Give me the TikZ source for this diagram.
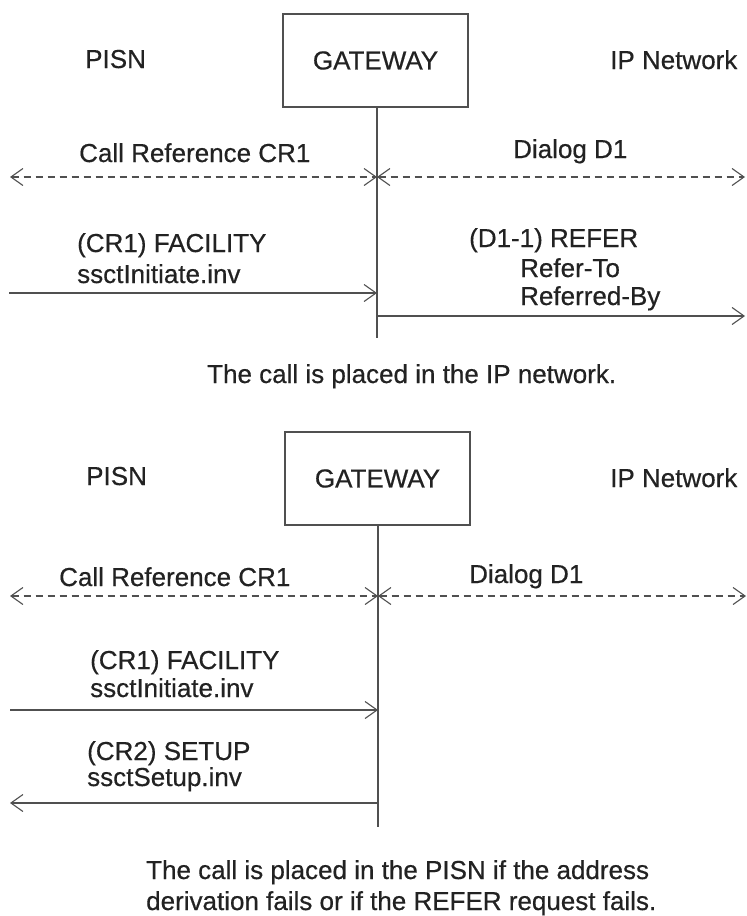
\documentclass[tikz,border=0pt]{standalone}
\usepackage{fontspec}
\setmainfont{Liberation Sans}[FakeBold=0.5]
\usetikzlibrary{arrows.meta}
\definecolor{ink}{HTML}{222222}
\definecolor{linec}{HTML}{505050}
\tikzset{
  lbl/.style={anchor=base west, inner sep=0pt, text=ink, font=\fontsize{26}{30}\selectfont},
  gwbox/.style={draw=linec, line width=1.1pt, minimum width=185pt, minimum height=93pt, inner sep=0pt, text=ink, font=\fontsize{26}{30}\selectfont},
  life/.style={draw=linec, line width=1.1pt},
  msg/.style={draw=linec, line width=1.1pt, -{Straight Barb[length=12pt,width=17pt]}},
  dsh/.style={draw=linec, line width=1.1pt, dash pattern=on 7.5pt off 4.5pt, {Straight Barb[length=12pt,width=17pt]}-{Straight Barb[length=12pt,width=17pt]}}
}
\begin{document}
\begin{tikzpicture}[x=1pt, y=-1pt]
\useasboundingbox (0,0) rectangle (747,916);
\fill[white] (0,0) rectangle (747,916);

% ---------------- top section ----------------
\node[gwbox] (gw1) at (375.5,60.5) {GATEWAY};
\node[lbl] (pisn1) at (85,68) {PISN};
\node[lbl] (ip1) at (610,69) {IP Network};
\node[lbl] (cr1a) at (79,162) {Call Reference CR1};
\node[lbl] (dd1a) at (513,158) {Dialog D1};
\node[lbl] (fac1) at (77,252) {(CR1) FACILITY};
\node[lbl] (ini1) at (77,283) {ssctInitiate.inv};
\node[lbl] (ref1) at (469,247) {(D1-1) REFER};
\node[lbl] (rto1) at (520,277) {Refer-To};
\node[lbl] (rby1) at (520,305) {Referred-By};
\node[lbl] (cap1) at (207,383) {The call is placed in the IP network.};

\coordinate (t1) at (377,107);
\coordinate (b1) at (377,338);
\coordinate (L1) at (10,177);
\coordinate (C1) at (377,177);
\coordinate (R1) at (745,177);
\coordinate (F1s) at (9,293);
\coordinate (F1e) at (377,293);
\coordinate (D1s) at (377,316);
\coordinate (D1e) at (745,316);

\draw[life] (t1) -- (b1);
\draw[dsh] (L1) -- (C1);
\draw[dsh] (C1) -- (R1);
\draw[msg] (F1s) -- (F1e);
\draw[msg] (D1s) -- (D1e);

% ---------------- bottom section ----------------
\node[gwbox] (gw2) at (377.5,478.5) {GATEWAY};
\node[lbl] (pisn2) at (86,485) {PISN};
\node[lbl] (ip2) at (610,487) {IP Network};
\node[lbl] (cr1b) at (59,586) {Call Reference CR1};
\node[lbl] (dd1b) at (469,583) {Dialog D1};
\node[lbl] (fac2) at (90,669) {(CR1) FACILITY};
\node[lbl] (ini2) at (90,697) {ssctInitiate.inv};
\node[lbl] (set2) at (87,760) {(CR2) SETUP};
\node[lbl] (sts2) at (87,786) {ssctSetup.inv};
\node[lbl] (cap2a) at (146,879) {The call is placed in the PISN if the address};
\node[lbl] (cap2b) at (146,910) {derivation fails or if the REFER request fails.};

\coordinate (t2) at (378,525);
\coordinate (b2) at (378,827);
\coordinate (L2) at (10,596);
\coordinate (C2) at (378,596);
\coordinate (R2) at (746,596);
\coordinate (F2s) at (10,710);
\coordinate (F2e) at (378,710);
\coordinate (S2s) at (378,803);
\coordinate (S2e) at (10,803);

\draw[life] (t2) -- (b2);
\draw[dsh] (L2) -- (C2);
\draw[dsh] (C2) -- (R2);
\draw[msg] (F2s) -- (F2e);
\draw[msg] (S2s) -- (S2e);
\end{tikzpicture}
\end{document}
